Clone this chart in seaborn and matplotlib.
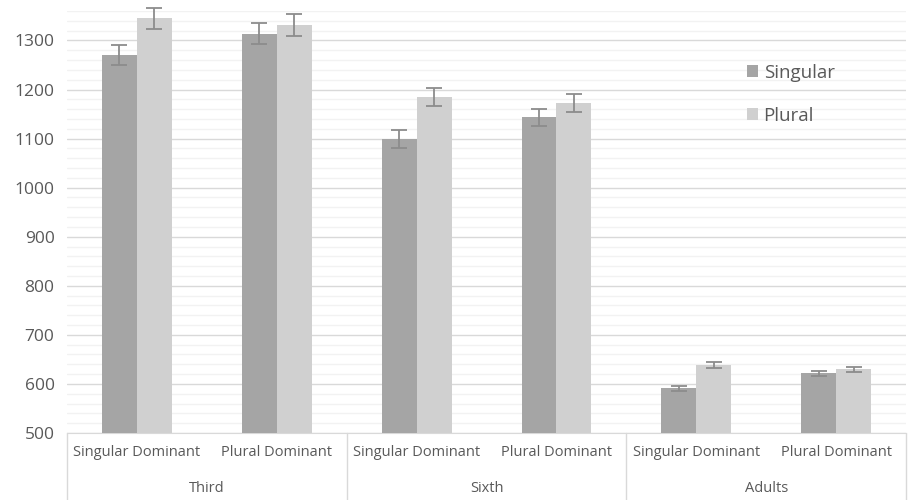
import matplotlib
matplotlib.use('Agg')
import matplotlib.pyplot as plt
import matplotlib.transforms as mtransforms
from matplotlib.ticker import MultipleLocator
import numpy as np
import pandas as pd
import seaborn as sns

groups = ['Third', 'Sixth', 'Adults']
conditions = ['Singular Dominant', 'Plural Dominant']
numbers = ['Singular', 'Plural']
singular_vals = [1270, 1314, 1099, 1143, 591, 622]
plural_vals = [1345, 1331, 1185, 1172, 638, 630]
singular_err = [21, 22, 18, 18, 5, 5]
plural_err = [22, 22, 19, 18, 6, 5]

cells = [g + '|' + c for g in groups for c in conditions]
df = pd.DataFrame({
    'cell': cells * 2,
    'number': ['Singular'] * 6 + ['Plural'] * 6,
    'rt': singular_vals + plural_vals,
})
errs = {'Singular': singular_err, 'Plural': plural_err}

sns.set_style('white')
plt.rcParams['font.family'] = ['Open Sans', 'DejaVu Sans']
txt = '#595959'

fig = plt.figure(figsize=(9.12, 5.0), dpi=100)
ax = fig.add_axes([0.0735, 0.134, 0.92, 0.844])

sns.barplot(data=df, x='cell', y='rt', hue='number', order=cells, hue_order=numbers,
            palette=['#a5a5a5', '#d0d0d0'], width=0.5, saturation=1, ax=ax, zorder=3,
            linewidth=0, edgecolor='none')

for cont, num in zip(ax.containers, numbers):
    xs = [b.get_x() + b.get_width() / 2 for b in cont]
    hs = [b.get_height() for b in cont]
    eb = ax.errorbar(xs, hs, yerr=errs[num], fmt='none', ecolor='#8c8c8c', elinewidth=1.3,
                     capsize=6, capthick=1.3, zorder=4)
    for art in eb.lines[1] + eb.lines[2]:
        art.set_clip_on(False)

ax.set_ylim(500, 1360)
ax.set_xlim(-0.5, len(cells) - 0.5)
ax.yaxis.set_major_locator(MultipleLocator(100))
ax.yaxis.set_minor_locator(MultipleLocator(20))
ax.grid(axis='y', which='major', color='#d9d9d9', linewidth=1.0, zorder=0)
ax.grid(axis='y', which='minor', color='#f2f2f2', linewidth=1.0, zorder=0)
ax.set_axisbelow(True)
for s in ['top', 'right', 'left']:
    ax.spines[s].set_visible(False)
ax.spines['bottom'].set_color('#d9d9d9')
ax.tick_params(axis='y', which='both', length=0, labelsize=12.5, colors=txt, pad=9)
ax.tick_params(axis='x', length=0, labelsize=10.5, colors=txt, pad=9)
ax.set_xticks(range(len(cells)))
ax.set_xticklabels([c.split('|')[1] for c in cells])
ax.set_xlabel('')
ax.set_ylabel('')

trans = mtransforms.blended_transform_factory(ax.transData, ax.transAxes)
low = -67 / (0.844 * 500)
for i in range(len(groups) + 1):
    xb = i * 2 - 0.5
    ax.plot([xb, xb], [0, low], transform=trans, color='#d9d9d9', lw=1.0, clip_on=False)
for i, g in enumerate(groups):
    ax.text(i * 2 + 0.5, -55 / (0.844 * 500), g, transform=trans, ha='center', va='center',
            fontsize=10.5, color=txt)

ax.legend(loc='upper left', bbox_to_anchor=(0.79, 0.915), frameon=False, fontsize=13.5,
          labelcolor=txt, handlelength=0.6, handleheight=0.6, handletextpad=0.3,
          labelspacing=1.35)

fig.savefig('out.png', dpi=100)
